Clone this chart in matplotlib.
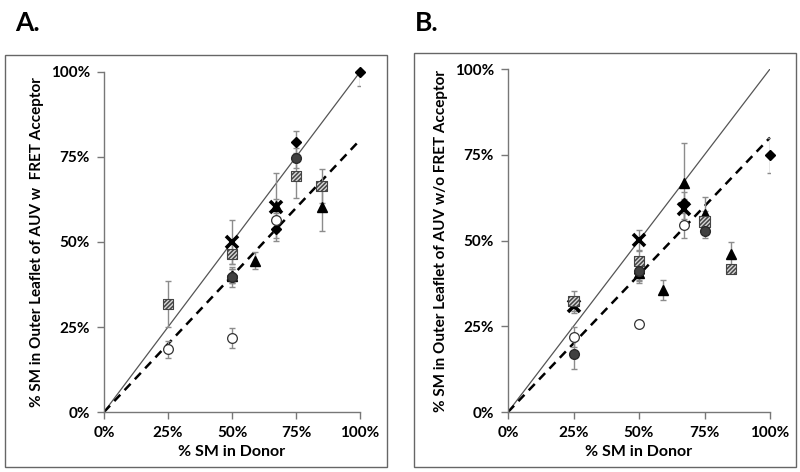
import numpy as np
import matplotlib
matplotlib.use("Agg")
import matplotlib.pyplot as plt
from matplotlib.patches import Rectangle
from matplotlib.ticker import PercentFormatter

plt.rcParams['font.family'] = ['Lato', 'DejaVu Sans']
plt.rcParams['hatch.linewidth'] = 1.1
plt.rcParams['hatch.color'] = '#333333'

# --- panel A: with FRET acceptor (x = % SM in donor, y = % SM outer leaflet) ---
a_diamond_x = [50, 67, 75, 100]
a_diamond_y = [40.0, 53.8, 79.4, 100.0]
a_diamond_err = [2.0, 2.5, 3.3, 4.0]

a_gray_x = [50, 75]
a_gray_y = [39.7, 74.7]
a_gray_err = [3.0, 3.0]

a_hatch_x = [25, 50, 75, 85]
a_hatch_y = [31.8, 46.5, 69.4, 66.5]
a_hatch_err = [6.7, 3.0, 6.5, 5.0]

a_open_x = [25, 50, 67]
a_open_y = [18.5, 21.8, 56.5]
a_open_err = [2.5, 3.0, 3.5]

a_tri_x = [50, 59, 67, 85]
a_tri_y = [40.0, 44.5, 60.5, 60.3]
a_tri_err = [2.0, 2.5, 2.0, 7.0]

a_cross_x = [50, 67]
a_cross_y = [50.0, 60.3]
a_cross_err = [6.5, 10.0]

# --- panel B: without FRET acceptor ---
b_diamond_x = [50, 67, 100]
b_diamond_y = [40.5, 61.0, 74.8]
b_diamond_err = [3.0, 3.0, 5.0]

b_gray_x = [25, 50, 75]
b_gray_y = [16.9, 41.1, 52.8]
b_gray_err = [4.5, 3.0, 2.0]

b_hatch_x = [25, 50, 75, 85]
b_hatch_y = [32.4, 44.0, 55.5, 41.7]
b_hatch_err = [3.0, 3.0, 3.0, 1.0]

b_open_x = [25, 50, 67]
b_open_y = [21.9, 25.7, 54.6]
b_open_err = [3.0, 0.5, 4.0]

b_tri_x = [50, 59, 67, 75, 85]
b_tri_y = [40.5, 35.6, 66.8, 57.7, 46.0]
b_tri_err = [2.0, 3.0, 11.5, 5.0, 3.5]

b_cross_x = [25, 50, 67]
b_cross_y = [31.0, 50.2, 59.2]
b_cross_err = [2.0, 3.0, 3.0]

ticks = [0, 25, 50, 75, 100]
x_label = "% SM in Donor"
a_ylabel = "% SM in Outer Leaflet of AUV w  FRET Acceptor"
b_ylabel = "% SM in Outer Leaflet of AUV w/o FRET Acceptor"

err_color = '#8c8c8c'


def draw_errors(ax, x, y, err):
    ax.errorbar(x, y, yerr=err, fmt='none', ecolor=err_color, elinewidth=1.0,
                capsize=2.5, capthick=1.0, zorder=3)


def draw_series(ax, x, y, err, **kw):
    draw_errors(ax, x, y, err)
    ax.plot(x, y, linestyle='none', zorder=4, clip_on=False, **kw)


def draw_hatched(ax, x, y, err):
    draw_errors(ax, x, y, err)
    ax.scatter(x, y, marker='s', s=55, facecolor='#d8d8d8', edgecolor='#444444',
               hatch='////////', linewidth=0.8, zorder=4, clip_on=False)


def draw_panel(ax, series, ylabel):
    line = np.array([0, 100])
    ax.plot(line, line, color='#555555', lw=0.9, zorder=2)
    ax.plot(line, 0.8 * line, color='black', lw=1.8, ls=(0, (3.5, 2.5)), zorder=2)

    tri, diamond, cross, hatch, gray, opn = series
    draw_series(ax, *tri, marker='^', ms=7, color='black', mec='black')
    draw_series(ax, *cross, marker='x', ms=8, color='black', mew=2.6)
    draw_series(ax, *diamond, marker='D', ms=5.5, color='black', mec='black')
    draw_hatched(ax, *hatch)
    draw_series(ax, *gray, marker='o', ms=7, color='#404040', mec='#2a2a2a')
    draw_series(ax, *opn, marker='o', ms=7, mfc='white', mec='#333333', mew=0.9)

    ax.set_xlim(0, 100)
    ax.set_ylim(0, 100)
    ax.set_xticks(ticks)
    ax.set_yticks(ticks)
    ax.xaxis.set_major_formatter(PercentFormatter(decimals=0))
    ax.yaxis.set_major_formatter(PercentFormatter(decimals=0))
    for side in ['top', 'right']:
        ax.spines[side].set_visible(False)
    for side in ['left', 'bottom']:
        ax.spines[side].set_color('#777777')
        ax.spines[side].set_linewidth(1.0)
    ax.tick_params(direction='out', length=5, color='#777777', width=1.0,
                   labelsize=11, pad=5)
    for lab in ax.get_xticklabels() + ax.get_yticklabels():
        lab.set_fontweight('bold')
    ax.set_xlabel(x_label, fontsize=11.5, fontweight='bold', labelpad=4)
    ax.set_ylabel(ylabel, fontsize=11, fontweight='bold', labelpad=5)


fig = plt.figure(figsize=(8, 4.72), dpi=100)
ax_a = fig.add_axes([0.13, 0.1271, 0.32, 0.7204])
ax_b = fig.add_axes([0.635, 0.1271, 0.3275, 0.7267])

draw_panel(ax_a,
           [(a_tri_x, a_tri_y, a_tri_err), (a_diamond_x, a_diamond_y, a_diamond_err),
            (a_cross_x, a_cross_y, a_cross_err), (a_hatch_x, a_hatch_y, a_hatch_err),
            (a_gray_x, a_gray_y, a_gray_err), (a_open_x, a_open_y, a_open_err)],
           a_ylabel)
draw_panel(ax_b,
           [(b_tri_x, b_tri_y, b_tri_err), (b_diamond_x, b_diamond_y, b_diamond_err),
            (b_cross_x, b_cross_y, b_cross_err), (b_hatch_x, b_hatch_y, b_hatch_err),
            (b_gray_x, b_gray_y, b_gray_err), (b_open_x, b_open_y, b_open_err)],
           b_ylabel)

# frames around each panel
W, H = 800, 472
for x0, y0, x1, y1 in [(5, 55, 387, 467), (414, 53, 796, 467)]:
    fig.add_artist(Rectangle((x0 / W, 1 - y1 / H), (x1 - x0) / W, (y1 - y0) / H,
                             transform=fig.transFigure, fill=False,
                             edgecolor='#666666', linewidth=1.0))

fig.text(15 / W, 1 - 23 / H, "A.", fontsize=19, fontweight='bold', va='center', ha='left')
fig.text(415 / W, 1 - 23 / H, "B.", fontsize=19, fontweight='bold', va='center', ha='left')

fig.savefig("out.png", dpi=100)
